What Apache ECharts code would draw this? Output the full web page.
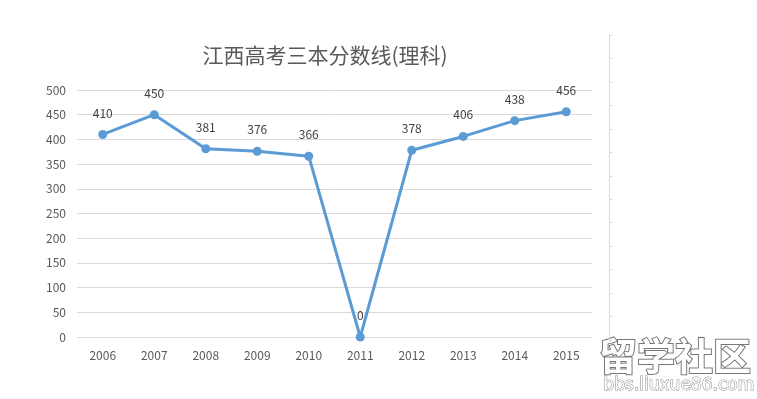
<!DOCTYPE html>
<html style="height: 100%">
<head>
    <meta charset="utf-8">
    <script src="https://cdn.jsdelivr.net/npm/echarts@6/dist/echarts.min.js"></script>
</head>
<body style="height: 100%; margin: 0; background: #fff">
    <div id="main" style="width: 757px; height: 399px"></div>
    <script type="text/javascript">
        // 年份与分数线
        var years = ['2006', '2007', '2008', '2009', '2010', '2011', '2012', '2013', '2014', '2015'];
        var scores = [410, 450, 381, 376, 366, 0, 378, 406, 438, 456];

        var myChart = echarts.init(document.getElementById('main'));
        var font = '"Microsoft YaHei", "Noto Sans CJK SC", sans-serif';

        var option = {
            backgroundColor: '#fff',
            title: {
                text: '江西高考三本分数线(理科)',
                left: 320,
                textAlign: 'center',
                top: 40,
                textStyle: { color: '#595959', fontSize: 21, fontWeight: 'normal', fontFamily: font }
            },
            grid: [
                { left: 77, right: 165, top: 90, bottom: 62 },
                { left: 609, width: 1, top: 35, bottom: 59 }
            ],
            xAxis: [{
                type: 'category',
                data: years,
                gridIndex: 0,
                axisLine: { show: false },
                axisTick: { show: false },
                axisLabel: { color: '#595959', fontSize: 12, margin: 12, fontFamily: font }
            }, {
                type: 'value',
                gridIndex: 1,
                show: false
            }],
            yAxis: [{
                type: 'value',
                gridIndex: 0,
                min: 0,
                max: 500,
                interval: 50,
                axisLine: { show: false },
                axisTick: { show: false },
                axisLabel: { color: '#595959', fontSize: 12, margin: 11, fontFamily: font },
                splitLine: { lineStyle: { color: '#d9d9d9', width: 1 } }
            }, {
                type: 'value',
                gridIndex: 1,
                min: 0,
                max: 13,
                interval: 1,
                axisLine: { show: true, onZero: false, lineStyle: { color: '#d9d9d9' } },
                axisTick: { show: true, inside: true, length: 3, lineStyle: { color: '#d9d9d9' } },
                axisLabel: { show: false },
                splitLine: { show: false }
            }],
            graphic: [{
                type: 'text',
                left: 598,
                top: 336,
                style: {
                    text: '留学社区',
                    fill: '#fff',
                    font: 'bold 38px "Noto Sans CJK SC", sans-serif',
                    stroke: '#777',
                    lineWidth: 2,
                    shadowColor: 'rgba(0,0,0,0.6)',
                    shadowBlur: 3,
                    shadowOffsetX: 1,
                    shadowOffsetY: 1
                }
            }, {
                type: 'text',
                left: 603,
                top: 377,
                style: {
                    text: 'bbs.liuxue86.com',
                    fill: '#fff',
                    font: '17px "DejaVu Sans", sans-serif',
                    stroke: '#888',
                    lineWidth: 1,
                    shadowColor: 'rgba(0,0,0,0.5)',
                    shadowBlur: 2,
                    shadowOffsetX: 1,
                    shadowOffsetY: 1
                }
            }],
            series: [{
                type: 'line',
                data: scores,
                xAxisIndex: 0,
                yAxisIndex: 0,
                symbol: 'circle',
                symbolSize: 9,
                lineStyle: { color: '#5b9bd5', width: 3 },
                itemStyle: { color: '#5b9bd5' },
                label: {
                    show: true,
                    position: 'top',
                    distance: 11,
                    color: '#404040',
                    fontSize: 12,
                    fontFamily: font
                }
            }]
        };

        myChart.setOption(option);
    </script>
</body>
</html>
